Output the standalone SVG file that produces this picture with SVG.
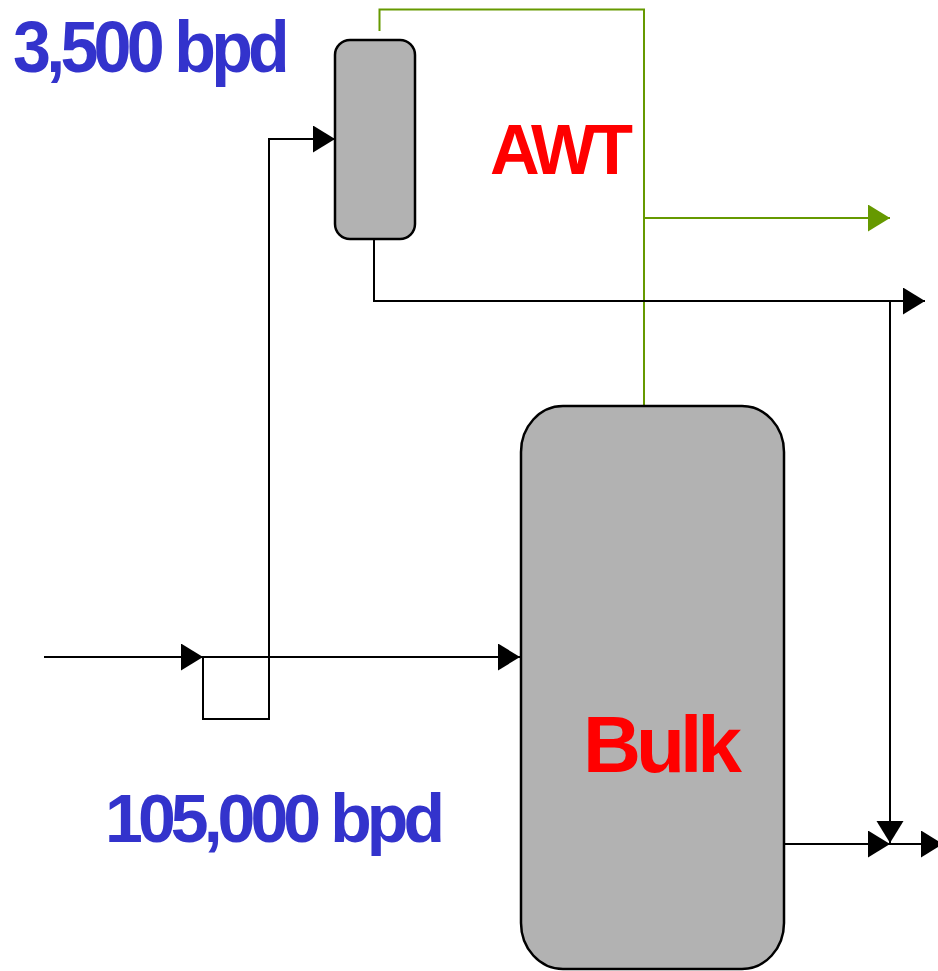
<svg xmlns="http://www.w3.org/2000/svg" width="938" height="971" viewBox="0 0 938 971">
<style>
.vessel{fill:#B2B2B2;stroke:#000;stroke-width:2.5}
.pipe{fill:none;stroke:#000;stroke-width:2}
.gas{fill:none;stroke:#669900;stroke-width:2}
.rate{font-family:"Liberation Sans",Arial,sans-serif;font-weight:bold;fill:#3333CC;letter-spacing:-5px}
.name{font-family:"Liberation Sans",Arial,sans-serif;font-weight:bold;fill:#FF0000;letter-spacing:-5px}
</style>
<defs>
<marker id="ab" markerUnits="userSpaceOnUse" markerWidth="24" markerHeight="28" refX="22" refY="13.5" orient="auto">
<path d="M0,0 L22,13.5 L0,27 Z" fill="#000"/>
</marker>
<marker id="ag" markerUnits="userSpaceOnUse" markerWidth="24" markerHeight="28" refX="22" refY="13.5" orient="auto">
<path d="M0,0 L22,13.5 L0,27 Z" fill="#669900"/>
</marker>
</defs>
<g id="connectors">
<path class="gas" d="M379.5,31 V9.5 H644 V406"/>
<path class="gas" d="M644,218 H890" marker-end="url(#ag)"/>
<path class="pipe" d="M44,657 H203" marker-end="url(#ab)"/>
<path class="pipe" d="M203,657 H520" marker-end="url(#ab)"/>
<path class="pipe" d="M203,657 V719 H269 V139 H335" marker-end="url(#ab)"/>
<path class="pipe" d="M374,239 V301 H925" marker-end="url(#ab)"/>
<path class="pipe" d="M890,301 V843" marker-end="url(#ab)"/>
<path class="pipe" d="M784,844 H890" marker-end="url(#ab)"/>
<path class="pipe" d="M890,844 H943" marker-end="url(#ab)"/>
</g>
<g id="awt">
<rect class="vessel" x="335" y="40" width="80" height="199" rx="15" ry="15"/>
<text class="name" x="490" y="174" font-size="70" textLength="138" lengthAdjust="spacingAndGlyphs">AWT</text>
</g>
<g id="bulk">
<rect class="vessel" x="521" y="406" width="263" height="563" rx="42" ry="46"/>
<text class="name" x="583" y="772" font-size="80" textLength="154" lengthAdjust="spacingAndGlyphs">Bulk</text>
</g>
<g id="labels">
<text class="rate" x="13" y="72" font-size="72" textLength="272" lengthAdjust="spacingAndGlyphs">3,500 bpd</text>
<text class="rate" x="105" y="842" font-size="69" textLength="335" lengthAdjust="spacingAndGlyphs">105,000 bpd</text>
</g>
</svg>
